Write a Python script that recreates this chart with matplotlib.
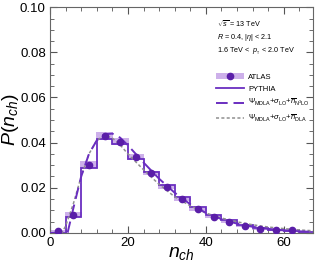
import matplotlib
matplotlib.use('Agg')
import matplotlib.pyplot as plt
import numpy as np
from matplotlib.patches import Patch
from matplotlib.lines import Line2D
from matplotlib.legend_handler import HandlerTuple

plt.rcParams['font.family'] = ['Liberation Sans', 'DejaVu Sans']
plt.rcParams['mathtext.fontset'] = 'custom'
plt.rcParams['mathtext.rm'] = 'Liberation Sans'
plt.rcParams['mathtext.it'] = 'Liberation Sans:italic'
plt.rcParams['mathtext.bf'] = 'Liberation Sans:bold'

# ATLAS data (bin centres, values, half error)
atlas_x = [2, 6, 10, 14, 18, 22, 26, 30, 34, 38, 42, 46, 50, 54, 58, 62]
atlas_y = [0.0009, 0.0081, 0.0302, 0.0429, 0.0405, 0.0337, 0.0266, 0.0204,
           0.0149, 0.0105, 0.0071, 0.0049, 0.0030, 0.0016, 0.0012, 0.0015]
atlas_err = [0.0004, 0.0010, 0.0016, 0.0016, 0.0015, 0.0012, 0.0010, 0.0008,
             0.0007, 0.0006, 0.0005, 0.0004, 0.0003, 0.0003, 0.0003, 0.0003]

# PYTHIA histogram
py_edges = [0, 4, 8, 12, 16, 20, 24, 28, 32, 36, 40, 44, 48, 52, 56, 60, 64, 68]
py_vals = [0.0, 0.0070, 0.0287, 0.0414, 0.0393, 0.0328, 0.0269, 0.0212, 0.0160,
           0.0115, 0.0081, 0.0055, 0.0034, 0.0021, 0.0013, 0.0009, 0.0006]

# MDLA + NLO curve
nlo_x = [0, 4.5, 6, 8, 10, 12, 14, 16, 18, 20, 24, 28, 32, 36, 40, 44, 48, 52, 56, 60, 64, 68]
nlo_y = [0, 0, 0.011, 0.025, 0.035, 0.041, 0.0437, 0.0440, 0.0422, 0.0388, 0.0312,
         0.0240, 0.0178, 0.0127, 0.0089, 0.0061, 0.0041, 0.0027, 0.0018, 0.0011,
         0.0007, 0.0004]

# MDLA + DLA curve
dla_x = [0, 3, 4, 6, 8, 10, 12, 14, 16, 18, 20, 24, 28, 32, 36, 40, 44, 48, 52, 56, 60, 64, 68]
dla_y = [0, 0, 0.003, 0.013, 0.025, 0.035, 0.041, 0.0432, 0.0420, 0.0390, 0.0350,
         0.0280, 0.0215, 0.0160, 0.0120, 0.0088, 0.0066, 0.0049, 0.0036, 0.0026,
         0.0019, 0.0013, 0.0009]

purple = '#6a2ec0'
dark = '#5a1ea8'
light = '#cdb0ea'

fig = plt.figure(figsize=(3.27, 2.68), dpi=100)
ax = fig.add_axes([0.153, 0.131, 0.804, 0.842])

for x, y, e in zip(atlas_x, atlas_y, atlas_err):
    ax.add_patch(plt.Rectangle((x - 2.2, y - e), 4.4, 2 * e, color=light, lw=0, zorder=1))

ax.stairs(py_vals, py_edges, color=purple, lw=1.3, zorder=2)
ax.plot(dla_x, dla_y, ls=(0, (2, 1.5)), color='#909090', lw=1.1, zorder=3)
ax.plot(nlo_x, nlo_y, ls=(0, (6, 3)), color=purple, lw=1.4, zorder=3)
ax.plot(atlas_x, atlas_y, 'o', color=dark, ms=4.5, zorder=4)

ax.set_xlim(0, 67.5)
ax.set_ylim(0, 0.1)
ax.set_xticks([0, 20, 40, 60])
ax.set_xticks(np.arange(0, 68, 4), minor=True)
ax.set_yticks([0, 0.02, 0.04, 0.06, 0.08, 0.10])
ax.set_yticklabels(['0.00', '0.02', '0.04', '0.06', '0.08', '0.10'])
ax.set_yticks(np.arange(0, 0.1001, 0.005), minor=True)
ax.tick_params(which='both', direction='in', top=True, right=True, labelsize=9.5,
               color='#555555', pad=3)
ax.tick_params(which='major', length=5)
ax.tick_params(which='minor', length=3)
for s in ax.spines.values():
    s.set_color('#666666')
    s.set_linewidth(0.8)

ax.set_xlabel(r'$n_{ch}$', fontsize=14, labelpad=-3)
ax.set_ylabel(r'$P(n_{ch})$', fontsize=14, labelpad=-1)

ax.text(0.635, 0.926, r'$\sqrt{s}$ = 13 TeV', transform=ax.transAxes, fontsize=5.2, va='center')
ax.text(0.635, 0.866, r'$R$ = 0.4, |$\eta$| < 2.1', transform=ax.transAxes, fontsize=5.2, va='center')
ax.text(0.635, 0.806, r'1.6 TeV <  $p_{_{\rm T}}$ < 2.0 TeV', transform=ax.transAxes, fontsize=5.2, va='center')

handles = [(Patch(color=light, lw=0), Line2D([], [], marker='o', ls='', color=dark, ms=4.5)),
           Line2D([], [], color=purple, lw=1.3),
           Line2D([], [], color=purple, lw=1.4, ls=(0, (6, 3))),
           Line2D([], [], color='#909090', lw=1.1, ls=(0, (2, 1.5)))]
labels = ['ATLAS', 'PYTHIA',
          r'$\Psi_{\rm MDLA}$+$\sigma_{\rm LO}$+$\overline{n}_{\rm N^3LO}$',
          r'$\Psi_{\rm MDLA}$+$\sigma_{\rm LO}$+$\overline{n}_{\rm DLA}$']
ax.legend(handles, labels, handler_map={tuple: HandlerTuple(ndivide=1)},
          loc='upper left', bbox_to_anchor=(0.62, 0.72), frameon=False,
          fontsize=5.5, handlelength=3.6, labelspacing=0.6, handletextpad=0.6,
          borderaxespad=0)

fig.savefig('out.png', dpi=100)
